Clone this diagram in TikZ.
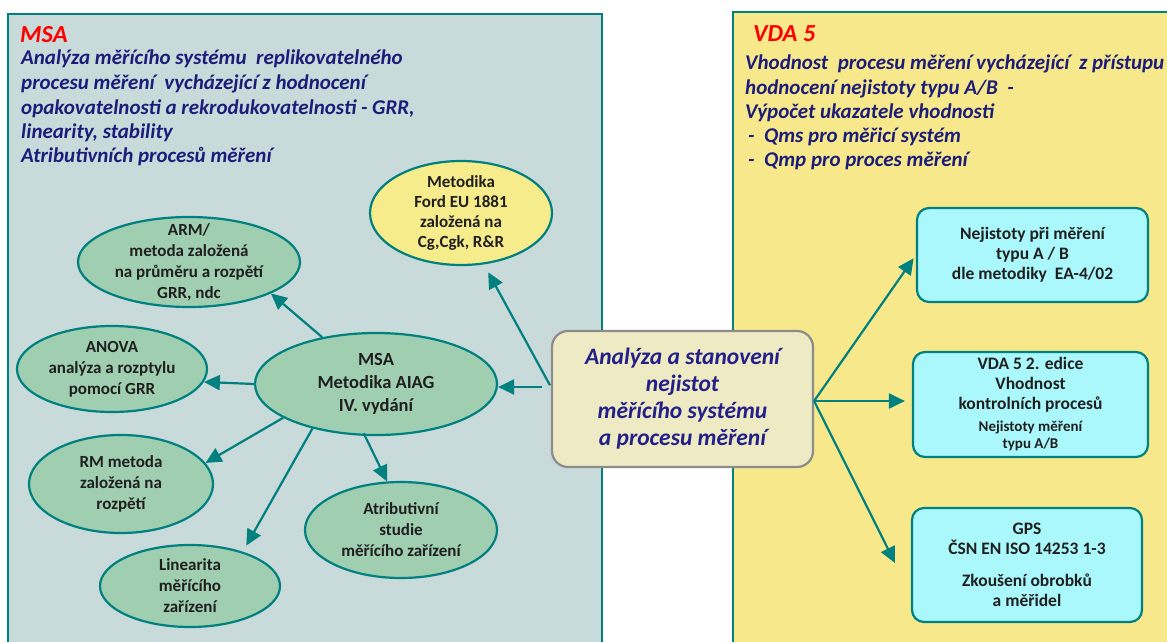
\documentclass[tikz,border=0pt]{standalone}
\usepackage{fontspec}
\setmainfont{Carlito}
\usetikzlibrary{shapes.geometric,arrows.meta}
\definecolor{tealc}{HTML}{00807F}
\definecolor{panelL}{HTML}{C9DADA}
\definecolor{panelR}{HTML}{F7E98B}
\definecolor{ellg}{HTML}{A0CEB0}
\definecolor{elly}{HTML}{F7EC8C}
\definecolor{cyanb}{HTML}{AAF8FB}
\definecolor{cbox}{HTML}{EDEAC4}
\definecolor{navy}{HTML}{1C1C7A}
\definecolor{cnavy}{HTML}{24208A}
\newcommand{\smalltxt}{\fontsize{15}{17}\selectfont}
\tikzset{
  panel/.style={draw=tealc, line width=2pt},
  hdr/.style={anchor=base west, inner sep=0pt, text=navy, font=\bfseries\itshape\fontsize{21}{24.5}\selectfont},
  ttl/.style={anchor=base west, inner sep=0pt, text=red, font=\bfseries\itshape\fontsize{24.5}{25}\selectfont},
  ell/.style={ellipse, draw=tealc, line width=2.2pt, fill=ellg, inner sep=-30pt, align=center, text=black!88, font=\bfseries\fontsize{17}{21}\selectfont},
  rbox/.style={rectangle, rounded corners=12pt, draw=tealc, line width=2.2pt, fill=cyanb, inner sep=0pt, align=center, text=black!88, font=\bfseries\fontsize{17.5}{20}\selectfont},
  arr/.style={draw=tealc, line width=2.2pt, -{Triangle[length=16pt,width=15pt]}},
}
\begin{document}
\begin{tikzpicture}[x=1pt,y=-1pt]
\useasboundingbox (0,0) rectangle (1167,642);
\fill[white] (0,0) rectangle (1167,642);
% panels
\draw[panel, fill=panelL] (8,14) rectangle (602,670);
\draw[panel, fill=panelR] (733,12) rectangle (1190,670);
% left header
\node[ttl] (tL) at (20,43) {MSA};
\node[hdr] (hl1) at (21,65) {Analýza měřícího systému\ \ replikovatelného};
\node[hdr] (hl2) at (21,89.5) {procesu měření\ \ vycházející z hodnocení};
\node[hdr] (hl3) at (21,114) {opakovatelnosti a rekrodukovatelnosti - GRR,};
\node[hdr] (hl4) at (21,138) {linearity, stability};
\node[hdr] (hl5) at (21,162) {Atributivních procesů měření};
% right header
\node[ttl] (tR) at (753,42) {VDA 5};
\node[hdr] (hr1) at (745,70) {Vhodnost\ \ procesu měření vycházející\ \ z přístupu};
\node[hdr] (hr2) at (745,94) {hodnocení nejistoty typu A/B\ \ -};
\node[hdr] (hr3) at (745,118) {Výpočet ukazatele vhodnosti};
\node[hdr] (hr4) at (748,142) {-\ \ Qms pro měřicí systém};
\node[hdr] (hr5) at (748,166) {-\ \ Qmp pro proces měření};
% ellipses
\node[ell, fill=elly, minimum width=182pt, minimum height=104pt, font=\bfseries\fontsize{17}{20}\selectfont] (ford) at (461,213) {Metodika\\Ford EU 1881\\založená na\\Cg,Cgk, R\&R};
\node[ell, minimum width=222pt, minimum height=90pt] (arm) at (189,262) {ARM/\\metoda založená\\na průměru a rozpětí\\GRR, ndc};
\node[ell, minimum width=190pt, minimum height=86pt] (anova) at (112,369) {ANOVA\\analýza a rozptylu\\pomocí GRR};
\node[ell, minimum width=242pt, minimum height=102pt, font=\bfseries\fontsize{18.5}{23}\selectfont] (msa) at (376,384) {MSA\\Metodika AIAG\\IV. vydání};
\node[ell, minimum width=184pt, minimum height=98pt] (rm) at (121,484) {RM metoda\\založená na\\rozpětí};
\node[ell, minimum width=180pt, minimum height=82pt] (lin) at (190,586) {Linearita\\měřícího\\zařízení};
\node[ell, minimum width=192pt, minimum height=96pt] (atr) at (401,530) {Atributivní\\studie\\měřícího zařízení};
% center box
\node[rectangle, rounded corners=16pt, draw=black!45, line width=2.2pt, fill=cbox, minimum width=261pt, minimum height=136pt, align=center, text=cnavy, font=\bfseries\itshape\fontsize{23.5}{27}\selectfont] (cen) at (682.5,399) {Analýza a stanovení\\nejistot\\měřícího systému\\a procesu měření};
% right boxes
\node[rbox, minimum width=231pt, minimum height=94pt] (b1) at (1032.5,255) {Nejistoty při měření\\typu A / B\\dle metodiky\ \ EA-4/02};
\node[rbox, minimum width=235pt, minimum height=105pt] (b2) at (1030.5,404.5) {VDA 5 2. edice\\Vhodnost\\kontrolních procesů\\[2pt]\smalltxt Nejistoty měření\\[-3pt]\smalltxt typu A/B};
\node[rbox, minimum width=230pt, minimum height=114pt] (b3) at (1027,565) {GPS\\ČSN EN ISO 14253 1-3\\[12pt]Zkoušení obrobků\\a měřidel};
% coordinates
\coordinate (cw) at ([yshift=12pt]cen.west);
\coordinate (ce) at ([yshift=-2pt]cen.east);
\coordinate (b3tip) at (895,563);
% arrows left
\draw[arr, shorten <=9pt] (cw) -- (cw -| msa.east);
\draw[arr, shorten <=2pt, shorten >=9pt] (cw) -- (ford.-66);
\draw[arr] (msa.139) -- (arm.339);
\draw[arr] (msa.west) -- (anova.352);
\draw[arr] (msa.200) -- (rm.14);
\draw[arr, shorten >=7pt] (msa.215) -- (lin.33);
\draw[arr, shorten <=-3pt] (msa.258) -- (atr.106);
% arrows right
\draw[arr, shorten >=4pt] (ce) -- (b1.west);
\draw[arr, shorten >=7pt] (ce) -- (ce -| b2.west);
\draw[arr] (ce) -- (b3tip);
\end{tikzpicture}
\end{document}
